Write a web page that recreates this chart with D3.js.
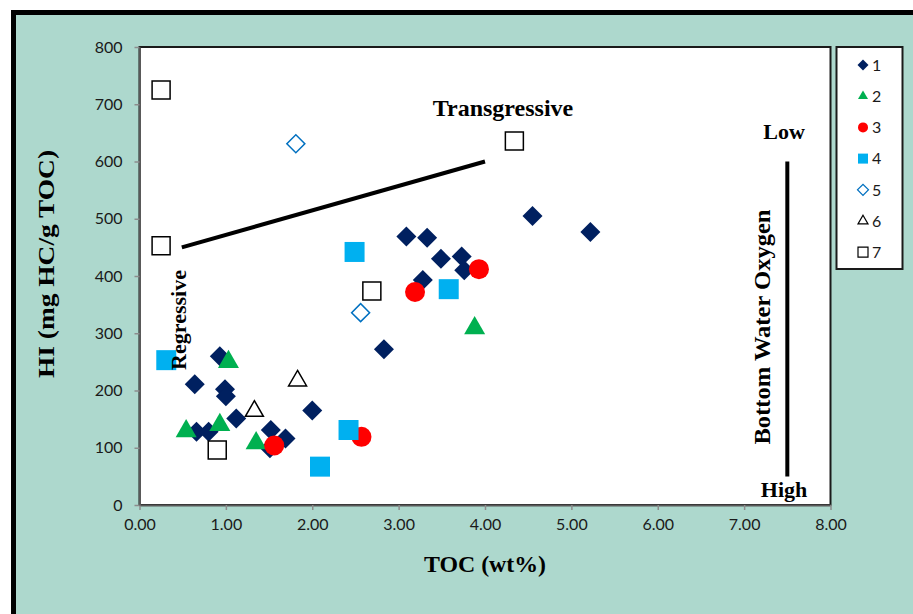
<!DOCTYPE html>
<html>
<head>
<meta charset="utf-8">
<script src="https://cdn.jsdelivr.net/npm/d3@7"></script>
<style>
  body { margin: 0; background: #fff; }
  svg { display: block; }
  .tick text { font-family: Lato, "Open Sans", sans-serif; font-size: 16px; fill: #1a1a1a; }
  .serif { font-family: "Liberation Serif", "Times New Roman", serif; font-weight: bold; fill: #000; }
</style>
</head>
<body>
<svg id="chart" width="913" height="614"></svg>
<script>
// HI vs TOC cross-plot, seven sample groups.

const xTicks = [0, 1, 2, 3, 4, 5, 6, 7, 8];
const yTicks = [0, 100, 200, 300, 400, 500, 600, 700, 800];

// [TOC wt%, HI mg HC/g TOC]
const group1 = [
  [4.55, 505], [5.22, 477], [3.09, 469], [3.33, 467], [3.49, 430], [3.73, 434],
  [3.76, 410], [3.28, 393], [2.83, 272], [0.93, 260], [0.64, 211], [0.99, 202],
  [1.00, 190], [1.12, 151], [0.66, 128], [0.80, 128], [1.52, 131], [1.69, 116],
  [1.51, 99], [2.00, 165]
];
const group2 = [[1.03, 250], [0.54, 129], [0.93, 140], [1.35, 108], [3.88, 309]];
const group3 = [[3.93, 412], [3.19, 372], [1.56, 104], [2.57, 119]];
const group4 = [[0.31, 253], [2.49, 442], [3.58, 377], [2.09, 67], [2.42, 131]];
const group5 = [[1.81, 631], [2.56, 336]];
const group6 = [[1.33, 164], [1.83, 217]];
const group7 = [[0.25, 725], [0.25, 453], [0.90, 96], [2.69, 374], [4.34, 636]];

const seriesNames = ['1', '2', '3', '4', '5', '6', '7'];

// guide lines drawn on the plot
const transLine = [[0.49, 450], [4.0, 600]];
const oxygenLine = [[7.5, 600], [7.5, 50]];

const series = [
  { name: seriesNames[0], data: group1, shape: 'diamond', fill: '#002060', stroke: 'none' },
  { name: seriesNames[1], data: group2, shape: 'triangle', fill: '#00b050', stroke: 'none' },
  { name: seriesNames[2], data: group3, shape: 'circle', fill: '#ff0000', stroke: 'none' },
  { name: seriesNames[3], data: group4, shape: 'square', fill: '#00b0f0', stroke: 'none' },
  { name: seriesNames[4], data: group5, shape: 'diamond', fill: 'none', stroke: '#0070c0' },
  { name: seriesNames[5], data: group6, shape: 'triangle', fill: 'none', stroke: '#000' },
  { name: seriesNames[6], data: group7, shape: 'square', fill: 'none', stroke: '#000' },
];

const svg = d3.select('#chart');
const W = 913, H = 614;
const plot = { left: 139.5, top: 47, right: 830.5, bottom: 505 };

// outer panel
svg.append('rect')
  .attr('x', 13.5).attr('y', 12.5).attr('width', W + 20).attr('height', H + 20)
  .attr('fill', '#add8cd').attr('stroke', '#000').attr('stroke-width', 5);

const x = d3.scaleLinear().domain([0, 8]).range([plot.left, plot.right]);
const y = d3.scaleLinear().domain([0, 800]).range([plot.bottom, plot.top]);

svg.append('rect')
  .attr('x', plot.left).attr('y', plot.top)
  .attr('width', plot.right - plot.left).attr('height', plot.bottom - plot.top)
  .attr('fill', '#fff').attr('stroke', '#1a1a1a').attr('stroke-width', 2);

const xAxis = svg.append('g').attr('transform', `translate(0,${plot.bottom})`)
  .call(d3.axisBottom(x).tickValues(xTicks).tickFormat(d3.format('.2f')).tickSize(5).tickSizeOuter(0).tickPadding(9));
const yAxis = svg.append('g').attr('transform', `translate(${plot.left},0)`)
  .call(d3.axisLeft(y).tickValues(yTicks).tickSize(5).tickSizeOuter(0).tickPadding(12));
[xAxis, yAxis].forEach(a => {
  a.select('.domain').attr('stroke', '#595959').attr('stroke-width', 2);
  a.selectAll('.tick line').attr('stroke', '#8c8c8c').attr('stroke-width', 1.5);
});

function markerPath(shape, s) {
  if (shape === 'diamond') return d3.symbol(d3.symbolSquare, s * s / 2)();
  if (shape === 'square') return d3.symbol(d3.symbolSquare, s * s)();
  if (shape === 'circle') return d3.symbol(d3.symbolCircle, Math.PI * s * s / 4)();
  return d3.symbol(d3.symbolTriangle, Math.sqrt(3) / 4 * s * s)();
}

const marks = svg.append('g');
series.forEach(sr => {
  const size = sr.fill === 'none' ? 18 : (sr.shape === 'triangle' ? 21 : 20);
  marks.append('g').selectAll('path').data(sr.data).join('path')
    .attr('d', markerPath(sr.shape, size))
    .attr('transform', d => `translate(${x(d[0])},${y(d[1])})` + (sr.shape === 'diamond' ? ' rotate(45)' : ''))
    .attr('fill', sr.fill)
    .attr('stroke', sr.stroke)
    .attr('stroke-width', 1.5);
});

// guide lines
const line = d3.line().x(d => x(d[0])).y(d => y(d[1]));
svg.append('path').attr('d', line(transLine)).attr('stroke', '#000').attr('stroke-width', 4).attr('fill', 'none');
svg.append('path').attr('d', line(oxygenLine)).attr('stroke', '#000').attr('stroke-width', 4).attr('fill', 'none');

// annotations
svg.append('text').attr('class', 'serif').attr('x', 503).attr('y', 116).attr('text-anchor', 'middle')
  .attr('font-size', 24).text('Transgressive');
svg.append('text').attr('class', 'serif').attr('text-anchor', 'middle').attr('font-size', 22)
  .attr('transform', 'translate(186,320) rotate(-90)').text('Regressive');
svg.append('text').attr('class', 'serif').attr('x', 784).attr('y', 139).attr('text-anchor', 'middle')
  .attr('font-size', 22).text('Low');
svg.append('text').attr('class', 'serif').attr('x', 784).attr('y', 497).attr('text-anchor', 'middle')
  .attr('font-size', 22).text('High');
svg.append('text').attr('class', 'serif').attr('text-anchor', 'middle').attr('font-size', 24)
  .attr('textLength', 235).attr('lengthAdjust', 'spacingAndGlyphs')
  .attr('transform', 'translate(770,327) rotate(-90)').text('Bottom Water Oxygen');

// axis titles
svg.append('text').attr('class', 'serif').attr('x', 485).attr('y', 572).attr('text-anchor', 'middle')
  .attr('font-size', 24).attr('textLength', 122).attr('lengthAdjust', 'spacingAndGlyphs').text('TOC (wt%)');
svg.append('text').attr('class', 'serif').attr('text-anchor', 'middle').attr('font-size', 24)
  .attr('textLength', 228).attr('lengthAdjust', 'spacingAndGlyphs')
  .attr('transform', 'translate(54,264) rotate(-90)').text('HI (mg HC/g TOC)');

// legend
const lg = svg.append('g');
lg.append('rect').attr('x', 836.5).attr('y', 47).attr('width', 66).attr('height', 222)
  .attr('fill', '#fff').attr('stroke', '#1a1a1a').attr('stroke-width', 2);
series.forEach((sr, i) => {
  const cy = 65 + i * 31.2;
  lg.append('path')
    .attr('d', markerPath(sr.shape, sr.shape === 'diamond' ? 11 : 10))
    .attr('transform', `translate(863,${cy})` + (sr.shape === 'diamond' ? ' rotate(45)' : ''))
    .attr('fill', sr.fill).attr('stroke', sr.stroke).attr('stroke-width', 1.2);
  lg.append('text').attr('x', 872).attr('y', cy).attr('dy', '0.36em')
    .attr('font-family', 'Lato, sans-serif').attr('font-size', 16).attr('fill', '#1a1a1a')
    .text(sr.name);
});
</script>
</body>
</html>
